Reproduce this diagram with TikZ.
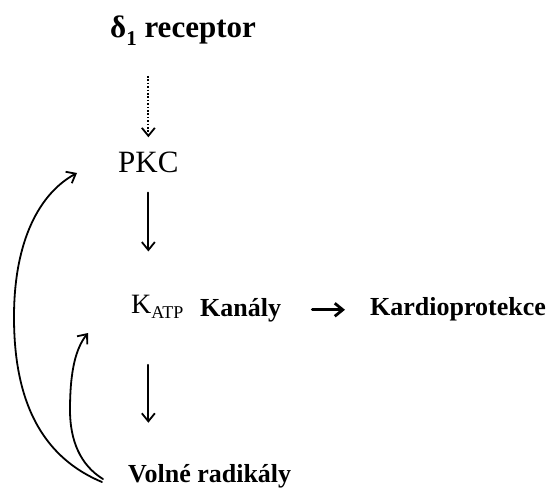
\documentclass[tikz,border=0pt]{standalone}
\usepackage{fontspec}
\setmainfont{Liberation Serif}
\usepackage{tikz}
\usetikzlibrary{arrows.meta}
\usetikzlibrary{calc}

\begin{document}
\begin{tikzpicture}[x=1pt,y=-1pt,line cap=round,>={Straight Barb[length=8pt,width=13pt]},
        lbl/.style={inner sep=0pt,anchor=base west,font=\fontsize{26}{30}\selectfont\bfseries},
        pathway/.style={->,line width=1.8pt},
        feedback/.style={->,line width=1.8pt}]
        \useasboundingbox (0,0) rectangle (551,489);
        % draw the labels
        \node[lbl,font=\fontsize{31}{34}\selectfont\bfseries] (delta) at (110,38) {δ\raisebox{-0.25em}{\fontsize{21}{21}\selectfont 1} receptor};
        \node[lbl,font=\fontsize{31}{34}\selectfont] (pkc) at (118,173) {PKC};
        \node[lbl,font=\fontsize{28}{30}\selectfont] (katp) at (131,313) {K\raisebox{-0.2em}{\fontsize{18}{18}\selectfont ATP}};
        \node[lbl] (kanaly) at (200,316) {Kanály};
        \node[lbl] (kardio) at (370,315) {Kardioprotekce};
        \node[lbl] (radikaly) at (128,482) {Volné radikály};
        % draw the cascade
        \draw[pathway,dash pattern=on 1.6pt off 1.8pt,line cap=butt] (delta.south -| pkc.north) -- (pkc.north)
            [shorten <=30pt,shorten >=15pt];
        \draw[pathway,shorten <=19pt,shorten >=43pt] (pkc.south) -- (pkc.south |- katp.north);
        \draw[pathway,shorten <=46pt,shorten >=41pt] (pkc.south |- katp.south) -- (pkc.south |- radikaly.north);
        \draw[pathway,line width=2.8pt,shorten <=31pt,shorten >=25pt] (kanaly.east) -- (kardio.west |- kanaly.east);
        % draw the feedback loops
        \draw[feedback] ([xshift=-26pt]radikaly.base west) .. controls (30,452) and (14,382) .. (14,317)
            .. controls (14,240) and (40,193) .. ([xshift=-41pt]pkc.base west);
        \draw[feedback] ([xshift=-25pt,yshift=3pt]radikaly.base west) .. controls (80,465) and (70,440) .. (70,410)
            .. controls (70,370) and (76,348) .. ([xshift=-43pt,yshift=-20pt]katp.base west);
    \end{tikzpicture}
\end{document}
